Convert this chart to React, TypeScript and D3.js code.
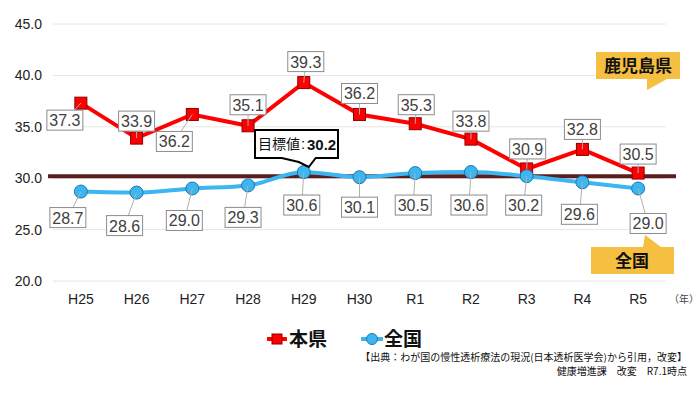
import React from "react";
import * as d3 from "d3";

const categories = ["H25", "H26", "H27", "H28", "H29", "H30", "R1", "R2", "R3", "R4", "R5"];
const prefValues = [37.3, 33.9, 36.2, 35.1, 39.3, 36.2, 35.3, 33.8, 30.9, 32.8, 30.5];
const nationValues = [28.7, 28.6, 29.0, 29.3, 30.6, 30.1, 30.5, 30.6, 30.2, 29.6, 29.0];
const targetValue = 30.2;
const yTicks = [20, 25, 30, 35, 40, 45];

// label offsets (layout)
const prefOffsets: [number, number][] = [
  [-16, 17], [0, -17], [-18, 27], [0, -21], [2, -21], [0, -21], [1, -19], [0, -18], [1, -20], [0, -20], [0, -19],
];
const nationOffsets: [number, number][] = [
  [-13, 26], [-12, 33], [-8, 32], [-5, 32], [-2, 33], [0, 30], [-2, 32], [-2, 33], [-3, 29], [-3, 32], [10, 35],
];

const W = 700, H = 395;
const numFont = "'Liberation Sans', Arial, sans-serif";
const jpFont = "'Noto Sans CJK JP', 'Noto Sans', sans-serif";

export default function App() {
  const x = d3.scaleBand<string>().domain(categories).range([53, 666]);
  const cx = (c: string) => (x(c) as number) + x.bandwidth() / 2;
  const y = d3.scaleLinear().domain([20, 45]).range([281, 24]);

  const line = d3.line<number>().x((_, i) => cx(categories[i])).y((v) => y(v));
  const nationLine = d3
    .line<number>()
    .x((_, i) => cx(categories[i]))
    .y((v) => y(v))
    .curve(d3.curveMonotoneX);

  const label = (v: number, px: number, py: number, off: [number, number], key: string) => {
    const lx = px + off[0], ly = py + off[1];
    const w = 36, h = 20;
    return (
      <g key={key}>
        <line x1={px} y1={py} x2={lx} y2={ly} stroke="#b0b0b0" strokeWidth={1} />
        <rect x={lx - w / 2} y={ly - h / 2} width={w} height={h} fill="#fff" stroke="#8c8c8c" strokeWidth={1} />
        <text x={lx} y={ly + 6} textAnchor="middle" fontFamily={numFont} fontSize={16} fill="#404040">
          {v.toFixed(1)}
        </text>
      </g>
    );
  };

  const tx = cx("H29");
  const ty = y(targetValue);

  return (
    <svg width={W} height={H} style={{ position: "absolute", left: 0, top: 0, background: "#fff" }}>
      {/* gridlines */}
      {yTicks.map((t) => (
        <line key={"g" + t} x1={53} x2={666} y1={y(t)} y2={y(t)} stroke="#e6e6e6" strokeWidth={1} />
      ))}
      {yTicks.map((t) => (
        <text key={"yt" + t} x={42} y={y(t) + 5} textAnchor="end" fontFamily={numFont} fontSize={14} fill="#222">
          {t.toFixed(1)}
        </text>
      ))}
      {categories.map((c) => (
        <text key={"xt" + c} x={cx(c)} y={304} textAnchor="middle" fontFamily={numFont} fontSize={14} fill="#222">
          {c}
        </text>
      ))}
      <text x={669} y={303} fontFamily={jpFont} fontSize={10} fill="#444">（年）</text>

      {/* target line */}
      <line x1={48} x2={676} y1={ty} y2={ty} stroke="#5a1e1e" strokeWidth={4} />

      {/* prefecture line */}
      <path d={line(prefValues) || ""} fill="none" stroke="#ff0000" strokeWidth={4} />
      {prefValues.map((v, i) => (
        <rect key={"ps" + i} x={cx(categories[i]) - 6} y={y(v) - 6} width={12} height={12} fill="#ff0000" stroke="#8b0000" strokeWidth={1} />
      ))}

      {/* nation line */}
      <path d={nationLine(nationValues) || ""} fill="none" stroke="#3cb6f0" strokeWidth={4} />
      {nationValues.map((v, i) => (
        <circle key={"nc" + i} cx={cx(categories[i])} cy={y(v)} r={6.5} fill="#3cb6f0" stroke="#2474a8" strokeWidth={1} />
      ))}

      {/* labels */}
      {prefValues.map((v, i) => label(v, cx(categories[i]), y(v), prefOffsets[i], "pl" + i))}
      {nationValues.map((v, i) => label(v, cx(categories[i]), y(nationValues[i]), nationOffsets[i], "nl" + i))}

      {/* target callout */}
      <path
        d={`M255,130 H338 V158 H${tx + 12} L${tx + 5},167 L${tx - 5},162 L${tx - 22},158 H255 Z`}
        fill="#fff"
        stroke="#000"
        strokeWidth={2}
      />
      <text x={258} y={149} fontFamily={jpFont} fontSize={14} fill="#111">
        目標値
      </text>
      <text x={301} y={149} fontFamily={numFont} fontSize={15} fill="#111">:</text>
      <text x={307} y={150} fontFamily={numFont} fontSize={15} fontWeight="bold" fill="#111">
        {targetValue.toFixed(1)}
      </text>

      {/* yellow callouts */}
      <path d="M596,52 H680 V79 H667 L647,90 L647,79 H596 Z" fill="#f5c042" />
      <text x={638} y={72} textAnchor="middle" fontFamily={jpFont} fontWeight="bold" fontSize={17} fill="#111">
        鹿児島県
      </text>
      <path d="M591,247 H643 L645,235 L661,247 H674 V274 H591 Z" fill="#f5c042" />
      <text x={632} y={267} textAnchor="middle" fontFamily={jpFont} fontWeight="bold" fontSize={17} fill="#111">
        全国
      </text>

      {/* legend */}
      <line x1={267} x2={287} y1={339} y2={339} stroke="#ff0000" strokeWidth={4} />
      <rect x={272} y={334} width={10} height={10} fill="#ff0000" stroke="#8b0000" strokeWidth={1} />
      <text x={289} y={346} fontFamily={jpFont} fontSize={19} fontWeight="bold" fill="#111">本県</text>
      <line x1={361} x2={383} y1={339} y2={339} stroke="#3cb6f0" strokeWidth={4} />
      <circle cx={372} cy={339} r={5.5} fill="#3cb6f0" stroke="#2474a8" strokeWidth={1} />
      <text x={384} y={346} fontFamily={jpFont} fontSize={19} fontWeight="bold" fill="#111">全国</text>

      {/* source */}
      <text x={687} y={361} textAnchor="end" fontFamily={jpFont} fontSize={10} fill="#111">
        【出典：わが国の慢性透析療法の現況(日本透析医学会)から引用，改変】
      </text>
      <text x={687} y={375} textAnchor="end" fontFamily={jpFont} fontSize={10} fill="#111">
        健康増進課　改変　R7.1時点
      </text>
    </svg>
  );
}
